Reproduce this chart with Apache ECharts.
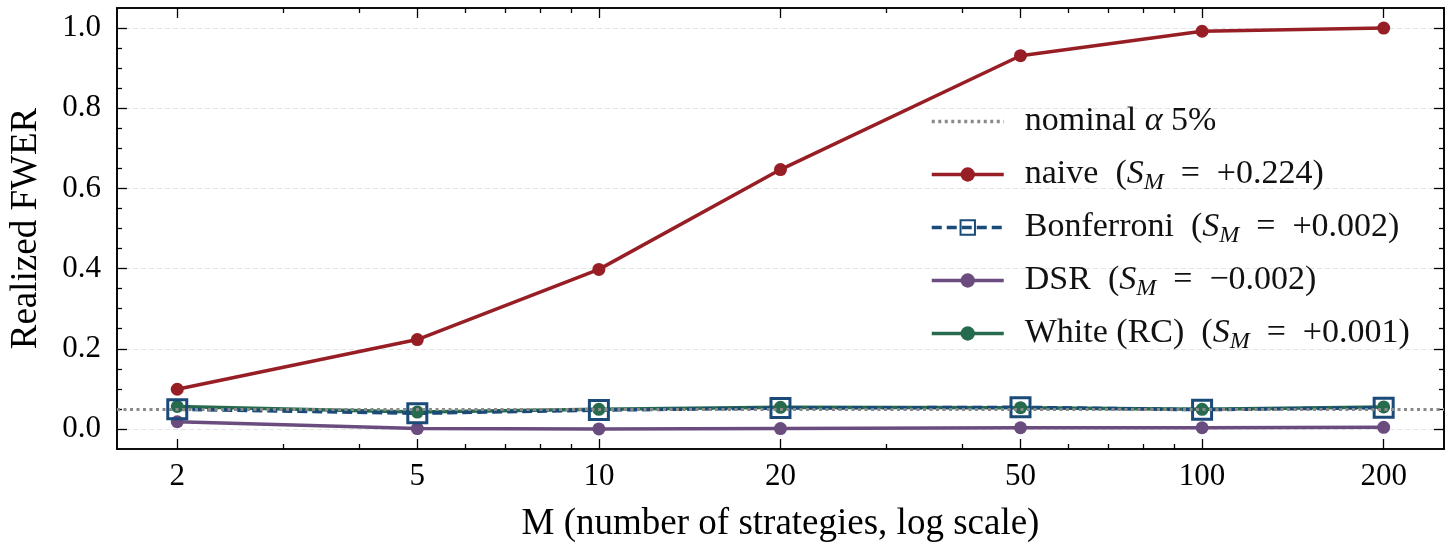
<!DOCTYPE html>
<html>
<head>
<meta charset="utf-8">
<script src="https://cdn.jsdelivr.net/npm/echarts@6/dist/echarts.min.js"></script>
<style>
html, body { margin: 0; padding: 0; background: #fff; }
#fwer { width: 1456px; height: 556px; }
</style>
</head>
<body>
<div id="fwer"></div>
<script>
var M = [2, 5, 10, 20, 50, 100, 200];
var naive = [0.099, 0.223, 0.398, 0.647, 0.931, 0.992, 1.0];
var bonferroni = [0.049, 0.039, 0.047, 0.052, 0.054, 0.048, 0.053];
var dsr = [0.018, 0.001, 0.0, 0.001, 0.003, 0.003, 0.004];
var white = [0.056, 0.042, 0.049, 0.054, 0.053, 0.049, 0.055];
var nominal = 0.05;
var smValues = { naive: '+0.224', Bonferroni: '+0.002', DSR: '\u22120.002', 'White (RC)': '+0.001' };

var xTicks = [2, 5, 10, 20, 50, 100, 200];
var xMinor = [3, 4, 6, 7, 8, 9, 30, 40, 60, 70, 80, 90];
var yTicks = [0, 0.2, 0.4, 0.6, 0.8, 1.0];
var yMinor = [0.05, 0.1, 0.15, 0.25, 0.3, 0.35, 0.45, 0.5, 0.55, 0.65, 0.7, 0.75, 0.85, 0.9, 0.95];

var FONT = "'Liberation Serif', 'DejaVu Serif', serif";
var chart = echarts.init(document.getElementById('fwer'));

function pairs(vals) {
  return M.map(function (m, i) { return [m, vals[i]]; });
}

function xAxisDef(pos, ticks, len, withLabel) {
  return {
    type: 'log', logBase: 10, position: pos,
    min: 1.589, max: 251.8,
    axisLine: { show: true, onZero: false, lineStyle: { color: '#000', width: 1.6 } },
    axisTick: { show: true, inside: true, length: len, customValues: ticks, lineStyle: { color: '#000', width: 1.3 } },
    axisLabel: {
      show: withLabel, customValues: ticks, margin: 12,
      fontFamily: FONT, fontSize: 31, color: '#000',
      formatter: function (v) { return String(Math.round(v)); }
    },
    splitLine: { show: false },
    name: withLabel ? 'M (number of strategies, log scale)' : '',
    nameLocation: 'middle', nameGap: 57,
    nameTextStyle: { fontFamily: FONT, fontSize: 37, color: '#000' }
  };
}

function yAxisDef(pos, ticks, len, withLabel) {
  return {
    type: 'value', position: pos,
    min: -0.05, max: 1.05,
    axisLine: { show: true, onZero: false, lineStyle: { color: '#000', width: 1.6 } },
    axisTick: { show: true, inside: true, length: len, customValues: ticks, lineStyle: { color: '#000', width: 1.3 } },
    axisLabel: {
      show: withLabel, customValues: ticks, margin: 16,
      fontFamily: FONT, fontSize: 31, color: '#000',
      formatter: function (v) { return v.toFixed(1); }
    },
    splitLine: {
      show: withLabel,
      lineStyle: { color: '#e4e4e4', width: 1, type: [5, 3] }
    },
    name: withLabel ? 'Realized FWER' : '',
    nameLocation: 'middle', nameGap: 72,
    nameTextStyle: { fontFamily: FONT, fontSize: 37, color: '#000' }
  };
}

function legendLabel(name) {
  if (name === 'nominal') return 'nominal {it|\u03b1} 5%';
  return name + '  ({it|S}{sub|M}\u2002=\u2002' + smValues[name] + ')';
}

var option = {
  backgroundColor: '#fff',
  animation: false,
  grid: { left: 117, right: 12, top: 8, bottom: 107 },
  legend: {
    orient: 'vertical', left: 925, top: 96,
    itemWidth: 72, itemHeight: 18, itemGap: 12,
    lineStyle: { width: 3.5 },
    data: [
      { name: 'nominal', itemStyle: { color: 'rgba(0,0,0,0)', borderWidth: 0 } },
      'naive', 'Bonferroni', 'DSR', 'White (RC)'
    ],
    formatter: legendLabel,
    textStyle: {
      fontFamily: FONT, fontSize: 34, color: '#111', lineHeight: 41,
      padding: [0, 0, 0, 16],
      rich: {
        it: { fontFamily: FONT, fontSize: 34, fontStyle: 'italic', lineHeight: 41 },
        sub: { fontFamily: FONT, fontSize: 24, fontStyle: 'italic', lineHeight: 41, verticalAlign: 'bottom' }
      }
    }
  },
  xAxis: [
    xAxisDef('bottom', xTicks, 10, true),
    xAxisDef('bottom', xMinor, 5, false),
    xAxisDef('top', xTicks, 10, false),
    xAxisDef('top', xMinor, 5, false)
  ],
  yAxis: [
    yAxisDef('left', yTicks, 10, true),
    yAxisDef('left', yMinor, 5, false),
    yAxisDef('right', yTicks, 10, false),
    yAxisDef('right', yMinor, 5, false)
  ],
  series: [
    {
      name: 'nominal', type: 'line', data: [], symbol: 'none',
      lineStyle: { color: '#8a8a8a', width: 3.5, type: [3, 3.5] },
      itemStyle: { color: '#8a8a8a' },
      markLine: {
        silent: true, symbol: ['none', 'none'], label: { show: false },
        lineStyle: { color: '#8a8a8a', width: 3, type: [3, 3.5] },
        data: [{ yAxis: nominal }]
      }
    },
    {
      name: 'naive', type: 'line', data: pairs(naive),
      symbol: 'circle', symbolSize: 13,
      lineStyle: { color: '#981e26', width: 3.5 },
      itemStyle: { color: '#981e26' }
    },
    {
      name: 'DSR', type: 'line', data: pairs(dsr),
      symbol: 'circle', symbolSize: 13,
      lineStyle: { color: '#6b4c7e', width: 3.5 },
      itemStyle: { color: '#6b4c7e' }
    },
    {
      name: 'White (RC)', type: 'line', data: pairs(white),
      symbol: 'circle', symbolSize: 13,
      lineStyle: { color: '#276b4f', width: 3.5 },
      itemStyle: { color: '#276b4f' }
    },
    {
      name: 'Bonferroni', type: 'line', data: pairs(bonferroni),
      symbol: 'rect', symbolSize: 19,
      lineStyle: { color: '#1a4a78', width: 3.5, type: [10, 5] },
      itemStyle: { color: 'rgba(255,255,255,0)', borderColor: '#1a4a78', borderWidth: 3 }
    }
  ]
};

chart.setOption(option);
</script>
</body>
</html>
